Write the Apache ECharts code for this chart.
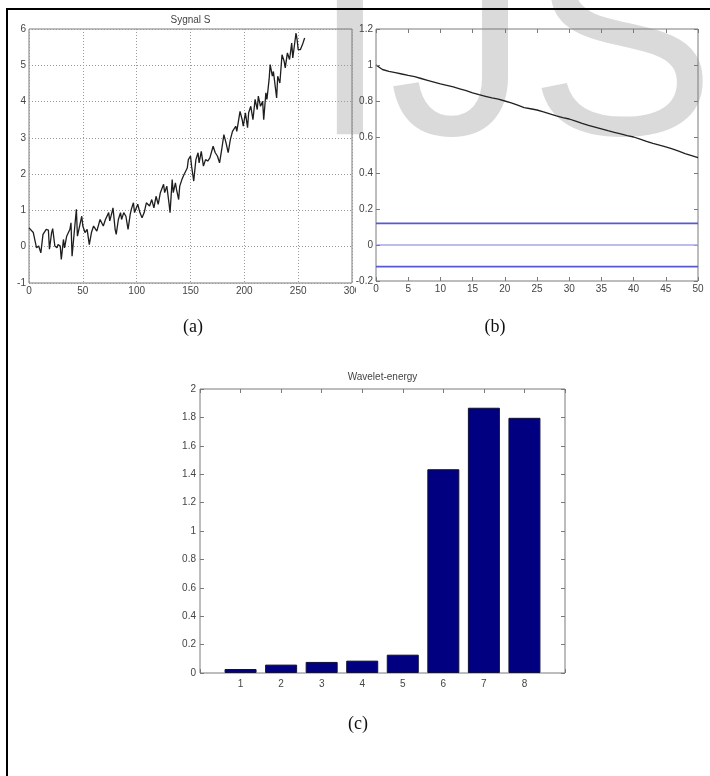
<!DOCTYPE html>
<html><head><meta charset="utf-8">
<script src="https://cdn.jsdelivr.net/npm/echarts@6/dist/echarts.min.js"></script>
<style>html,body{margin:0;padding:0;background:#fff}#c{width:710px;height:776px}</style>
</head><body><div id="c"></div>
<script>
// ---- data ----
const signalTitle = 'Sygnal S';
const sigX = [0,4,7,9,11,13,16,18,19,21,22,24,26,27,29,30,32,33,35,36,38,39,40,42,44,45,47,49,50,52,54,56,58,60,63,66,69,71,74,75,77,78,80,81,83,85,86,88,90,92,94,95,97,98,101,103,105,107,109,112,114,116,118,120,122,125,126,128,130,131,133,134,136,137,139,140,142,144,147,148,150,151,153,155,157,158,160,162,164,166,168,171,173,175,177,179,181,183,185,187,189,192,193,196,198,199,201,203,204,206,208,210,212,213,215,217,218,220,221,223,224,226,227,230,231,233,235,237,238,240,242,244,245,248,249,250,252,254,256];
const sigY = [0.52,0.39,-0.03,0.02,-0.17,0.34,0.48,0.46,-0.07,0.39,0.50,0.02,-0.03,0.06,0.02,-0.35,0.20,-0.03,0.29,0.34,0.48,0.66,-0.26,0.39,1.03,0.29,0.57,0.84,0.57,0.39,0.48,0.06,0.39,0.57,0.43,0.75,0.57,0.75,0.94,0.71,0.94,1.07,0.48,0.34,0.75,0.94,0.75,0.94,0.84,0.48,0.89,1.03,1.21,0.94,1.17,0.94,0.80,0.94,1.21,1.12,1.30,1.07,1.39,1.17,1.49,1.72,1.49,1.67,1.21,0.94,1.85,1.49,1.76,1.58,1.30,1.67,1.85,1.99,2.17,2.40,2.50,2.22,1.81,2.40,2.59,2.31,2.63,2.22,2.40,2.36,2.45,2.77,2.59,2.50,2.31,2.68,3.09,2.86,2.59,2.95,3.18,3.32,3.18,3.73,3.50,3.32,3.69,3.28,3.69,3.87,3.50,4.06,3.78,4.15,3.87,4.01,3.50,4.24,4.06,4.61,5.02,4.70,4.83,4.10,4.70,4.51,5.29,5.11,4.93,5.34,5.16,5.61,5.20,5.89,5.71,5.43,5.43,5.57,5.75];
const sigXTicks = [0,50,100,150,200,250,300];
const sigYTicks = [-1,0,1,2,3,4,5,6];

const decayX = [0,1,2,3,4,5,6,7,8,9,10,11,12,13,14,15,16,17,18,19,20,21,22,23,24,25,26,27,28,29,30,31,32,33,34,35,36,37,38,39,40,41,42,43,44,45,46,47,48,49,50];
const decayY = [1.0,0.975,0.965,0.958,0.95,0.942,0.935,0.925,0.915,0.905,0.895,0.887,0.878,0.868,0.857,0.845,0.835,0.826,0.817,0.81,0.80,0.79,0.777,0.763,0.757,0.75,0.74,0.728,0.717,0.708,0.70,0.688,0.676,0.665,0.655,0.645,0.635,0.626,0.617,0.608,0.60,0.588,0.576,0.564,0.555,0.545,0.534,0.522,0.508,0.497,0.485];
const levelValues = [0.12, 0, -0.12];
const decayXTicks = [0,5,10,15,20,25,30,35,40,45,50];
const decayYTicks = [-0.2,0,0.2,0.4,0.6,0.8,1,1.2];

const energyTitle = 'Wavelet-energy';
const energyLevels = [1,2,3,4,5,6,7,8];
const energyValues = [0.028,0.059,0.078,0.087,0.129,1.435,1.868,1.797];
const energyXTicks = [0,1,2,3,4,5,6,7,8,9];
const energyYTicks = [0,0.2,0.4,0.6,0.8,1,1.2,1.4,1.6,1.8,2];

const panelLabels = ['(a)','(b)','(c)'];

// ---- chart ----
const FONT = '"Liberation Sans Narrow","Liberation Sans",Arial,sans-serif';
const labelStyle = {color:'#444', fontSize:10, fontFamily:FONT};
const frameColor = '#7a7a7a';

function lab(extra) {
  return Object.assign({show:true, margin:3, hideOverlap:false, showMinLabel:true, showMaxLabel:true}, labelStyle, extra || {});
}
function ax(gridIndex, ticks, opt) {
  return Object.assign({
    type:'value', gridIndex, min:ticks[0], max:ticks[ticks.length-1],
    interval:ticks[1]-ticks[0],
    axisLine:{show:false, onZero:false},
    axisTick:{show:true, inside:true, length:4, lineStyle:{color:frameColor}},
    splitLine:{show:false},
    axisLabel:lab()
  }, opt || {});
}
function mirror(gridIndex, ticks, pos, opt) {
  return ax(gridIndex, ticks, Object.assign({position:pos, axisLabel:{show:false}}, opt||{}));
}
const dotted = {show:true, lineStyle:{color:'#9a9a9a', type:[1,2], width:1}};
const oneDec = v => String(Math.round(v*10)/10);

const chart = echarts.init(document.getElementById('c'), null, {renderer:'canvas'});
chart.setOption({
  backgroundColor:'#fff',
  animation:false,
  grid:[
    {left:29, top:29, width:323, height:254, show:true, borderColor:frameColor, borderWidth:1, backgroundColor:'transparent'},
    {left:376, top:29, width:322, height:252, show:true, borderColor:frameColor, borderWidth:1, backgroundColor:'transparent'},
    {left:200, top:389, width:365, height:284, show:true, borderColor:frameColor, borderWidth:1, backgroundColor:'transparent'}
  ],
  xAxis:[
    ax(0, sigXTicks, {position:'bottom', splitLine:dotted, axisTick:{show:false}, axisLabel:lab({margin:3})}),
    mirror(0, sigXTicks, 'top', {axisTick:{show:false}}),
    ax(1, decayXTicks, {position:'bottom', z:5, axisLabel:lab({margin:3})}),
    mirror(1, decayXTicks, 'top'),
    ax(2, energyXTicks, {position:'bottom',
      axisLabel:lab({margin:6, formatter:v => energyLevels.indexOf(v) >= 0 ? String(v) : ''})}),
    mirror(2, energyXTicks, 'top')
  ],
  yAxis:[
    ax(0, sigYTicks, {position:'left', splitLine:dotted, axisTick:{show:false}}),
    mirror(0, sigYTicks, 'right', {axisTick:{show:false}}),
    ax(1, decayYTicks, {position:'left', z:5, axisLabel:lab({formatter:oneDec})}),
    mirror(1, decayYTicks, 'right'),
    ax(2, energyYTicks, {position:'left', axisLabel:lab({margin:4, formatter:oneDec})}),
    mirror(2, energyYTicks, 'right')
  ],
  series:[
    {type:'line', xAxisIndex:0, yAxisIndex:0, symbol:'none', silent:true,
     data:sigX.map((x,i)=>[x, sigY[i]]), lineStyle:{color:'#1e1e1e', width:1.3}},
    {type:'line', xAxisIndex:2, yAxisIndex:2, symbol:'none', silent:true,
     data:decayX.map((x,i)=>[x, decayY[i]]), lineStyle:{color:'#222', width:1.3}},
    ...levelValues.map(v=>({type:'line', xAxisIndex:2, yAxisIndex:2, symbol:'none', silent:true,
      data:[[decayXTicks[0], v],[decayXTicks[decayXTicks.length-1], v]],
      lineStyle:{color: v===0 ? '#a6a6ea' : '#5858d0', width:1.6}})),
    {type:'bar', xAxisIndex:4, yAxisIndex:4, barWidth:32, silent:true,
     data:energyLevels.map((x,i)=>[x, energyValues[i]]),
     itemStyle:{color:'#000080', borderColor:'#10103a', borderWidth:1}}
  ],
  graphic:[
    {type:'text', z:-10, silent:true, x:311, y:-83,
     style:{text:'IJS', font:'280px "Liberation Sans", Arial, sans-serif', fill:'#dadada'}},
    {type:'rect', z:1, silent:true, shape:{x:356, y:285, width:16, height:14}, style:{fill:'#fff'}},
    {type:'polyline', z:20, silent:true, shape:{points:[[7,776],[7,9],[710,9]]}, style:{stroke:'#000', lineWidth:2, fill:null}},
    {type:'text', z:20, x:190.5, y:20, style:{text:signalTitle, font:'10px '+FONT, fill:'#444', align:'center', verticalAlign:'middle'}},
    {type:'text', z:20, x:382.5, y:377, style:{text:energyTitle, font:'10px '+FONT, fill:'#444', align:'center', verticalAlign:'middle'}},
    {type:'text', z:20, x:193, y:327, style:{text:panelLabels[0], font:'18px "Liberation Serif","DejaVu Serif",serif', fill:'#111', align:'center', verticalAlign:'middle'}},
    {type:'text', z:20, x:495, y:327, style:{text:panelLabels[1], font:'18px "Liberation Serif","DejaVu Serif",serif', fill:'#111', align:'center', verticalAlign:'middle'}},
    {type:'text', z:20, x:358, y:724, style:{text:panelLabels[2], font:'18px "Liberation Serif","DejaVu Serif",serif', fill:'#111', align:'center', verticalAlign:'middle'}}
  ]
});
</script></body></html>
